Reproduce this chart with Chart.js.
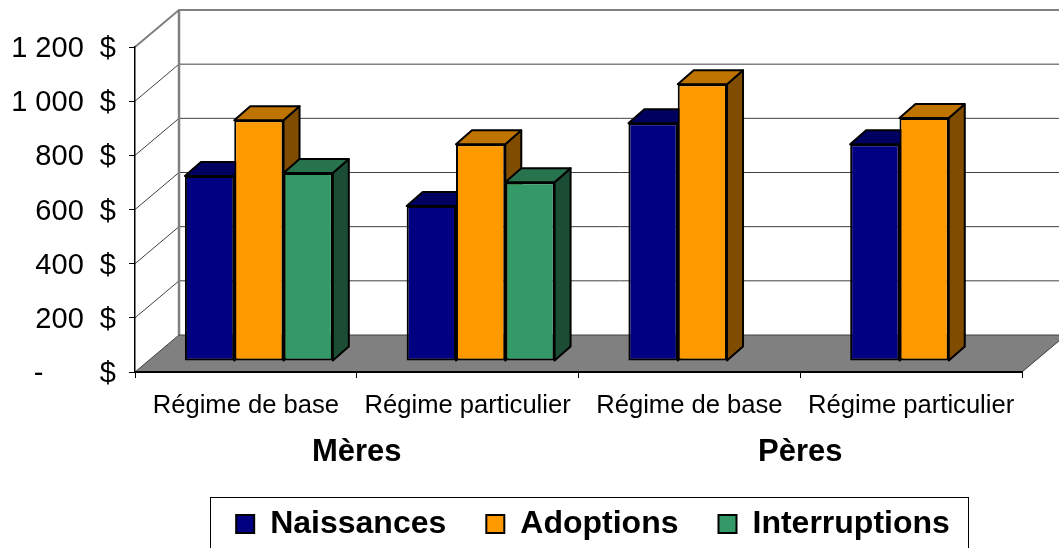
<!DOCTYPE html>
<html>
<head>
<meta charset="utf-8">
<style>
    html, body { margin: 0; padding: 0; background: #fff; overflow: hidden; }
    canvas { display: block; }
</style>
<script src="https://cdn.jsdelivr.net/npm/chart.js@4"></script>
</head>
<body>
<canvas id="chart" width="1059" height="548"></canvas>
<script>
var categories = ['Régime de base', 'Régime particulier', 'Régime de base', 'Régime particulier'];
var groups = ['Mères', 'Pères'];
var naissances = [683, 572, 878, 800];
var adoptions = [889, 800, 1022, 897];
var interruptions = [694, 660, null, null];
var tickLabels = ['-       $', '200  $', '400  $', '600  $', '800  $', '1 000  $', '1 200  $'];

var FONT = '"Liberation Sans", Arial, sans-serif';
var WALL = { x: 44, y: -37 };
var BAR_SHIFT = { x: 13, y: -11 };
var BAR_DEPTH = { x: 16, y: -14 };
var LEGEND_PADDING = 40;
var LEGEND_SHIFT = 82;

function shade(hex, f) {
    var n = parseInt(hex.slice(1), 16);
    var r = Math.round((n >> 16) * f), g = Math.round(((n >> 8) & 255) * f), b = Math.round((n & 255) * f);
    return 'rgb(' + r + ',' + g + ',' + b + ')';
}

function poly(ctx, pts, fill) {
    ctx.beginPath();
    ctx.moveTo(pts[0][0], pts[0][1]);
    for (var i = 1; i < pts.length; i++) ctx.lineTo(pts[i][0], pts[i][1]);
    ctx.closePath();
    if (fill) { ctx.fillStyle = fill; ctx.fill(); }
    ctx.stroke();
}

// walls, floor, depth gridlines and bar faces, all taken from the chart's scales and elements
var walls = {
    id: 'walls',
    beforeLayout: function(chart) {
        var legend = chart.legend;
        if (legend._patched) return;
        var fit = legend.fit;
        legend.fit = function() { fit.call(this); this.height = 70; };
        legend._patched = true;
    },
    afterLayout: function(chart) {
        var legend = chart.legend;
        legend.left += LEGEND_SHIFT;
        legend.right += LEGEND_SHIFT;
        legend.top = 468;
    },
    beforeDraw: function(chart) {
        var ctx = chart.ctx, y = chart.scales.y, a = chart.chartArea;
        ctx.save();
        y.ticks.forEach(function(t, i) {
            if (i === 0) return;
            var py = y.getPixelForValue(t.value);
            var top = i === y.ticks.length - 1;
            ctx.strokeStyle = top ? '#808080' : '#404040';
            ctx.lineWidth = top ? 2 : 1;
            ctx.beginPath();
            ctx.moveTo(a.left, py);
            ctx.lineTo(a.left + WALL.x, py + WALL.y);
            ctx.lineTo(a.right + WALL.x, py + WALL.y);
            ctx.stroke();
        });
        var y0 = y.getPixelForValue(0), yMax = y.getPixelForValue(1200);
        ctx.strokeStyle = '#808080';
        ctx.lineWidth = 2.5;
        ctx.beginPath();
        ctx.moveTo(a.left + WALL.x, y0 + WALL.y);
        ctx.lineTo(a.left + WALL.x, yMax + WALL.y);
        ctx.stroke();
        ctx.strokeStyle = '#404040';
        ctx.lineWidth = 1;
        poly(ctx, [
            [a.left, y0], [a.right, y0],
            [a.right + WALL.x, y0 + WALL.y], [a.left + WALL.x, y0 + WALL.y]
        ], '#808080');
        ctx.restore();
    },
    // draw left to right so each bar hides the side of the one before it
    beforeDatasetsDraw: function(chart) {
        var ctx = chart.ctx;
        var count = chart.data.labels.length;
        var n = chart.data.datasets.length;
        ctx.save();
        ctx.translate(BAR_SHIFT.x, BAR_SHIFT.y);
        ctx.lineJoin = 'round';
        for (var c = 0; c < count; c++) {
            for (var d = 0; d < n; d++) {
                var ds = chart.data.datasets[d];
                if (ds.data[c] === null) continue;
                var bar = chart.getDatasetMeta(d).data[c];
                var l = bar.x - bar.width / 2, r = bar.x + bar.width / 2;
                var dx = BAR_DEPTH.x, dy = BAR_DEPTH.y;
                ctx.strokeStyle = '#000';
                ctx.lineWidth = 2;
                poly(ctx, [[r, bar.y], [r + dx, bar.y + dy], [r + dx, bar.base + dy], [r, bar.base]], shade(ds.backgroundColor, 0.5));
                poly(ctx, [[l, bar.y], [r, bar.y], [r + dx, bar.y + dy], [l + dx, bar.y + dy]], shade(ds.backgroundColor, 0.75));
                bar.draw(ctx);
            }
        }
        ctx.restore();
        return false;
    },
    afterDraw: function(chart) {
        var ctx = chart.ctx, legend = chart.legend;
        var center = (legend.left + legend.right) / 2 - 4;
        var half = (legend.lineWidths[0] - LEGEND_PADDING) / 2 + 22;
        ctx.save();
        ctx.strokeStyle = '#000';
        ctx.lineWidth = 1;
        ctx.strokeRect(Math.round(center - half) + 0.5, 497.5, Math.round(half * 2), 60);
        ctx.restore();
    }
};

new Chart(document.getElementById('chart').getContext('2d'), {
    type: 'bar',
    data: {
        labels: categories,
        datasets: [
            { label: 'Naissances', data: naissances, backgroundColor: '#000080', borderColor: '#000', borderWidth: 2, borderSkipped: false },
            { label: 'Adoptions', data: adoptions, backgroundColor: '#FF9900', borderColor: '#000', borderWidth: 2, borderSkipped: false },
            { label: 'Interruptions', data: interruptions, backgroundColor: '#339966', borderColor: '#000', borderWidth: 2, borderSkipped: false }
        ]
    },
    options: {
        responsive: false,
        animation: false,
        categoryPercentage: 0.667,
        barPercentage: 1,
        layout: { padding: { top: 47, right: 37, left: 0, bottom: 0 } },
        scales: {
            y: {
                min: 0,
                max: 1200,
                afterFit: function(s) { s.width = 135; },
                grid: { drawOnChartArea: false, color: '#000', tickLength: 6 },
                border: { color: '#000', width: 1.5 },
                ticks: {
                    stepSize: 200,
                    color: '#000',
                    padding: 13,
                    labelOffset: 2,
                    font: { family: FONT, size: 29 },
                    callback: function(v, i) { return tickLabels[i]; }
                }
            },
            x: {
                afterFit: function(s) { s.height = 50; },
                grid: { drawOnChartArea: false, color: '#000', tickLength: 6 },
                border: { color: '#000', width: 2 },
                ticks: { color: '#000', padding: 13, maxRotation: 0, autoSkip: false, font: { family: FONT, size: 25.6 } }
            },
            x2: {
                type: 'category',
                labels: groups,
                position: 'bottom',
                afterFit: function(s) { s.height = 56; },
                grid: { display: false },
                border: { display: false },
                ticks: { color: '#000', padding: 4, maxRotation: 0, font: { family: FONT, size: 31, weight: 'bold' } }
            }
        },
        plugins: {
            tooltip: { enabled: false },
            legend: {
                position: 'bottom',
                labels: {
                    color: '#000',
                    boxWidth: 18,
                    boxHeight: 18,
                    padding: LEGEND_PADDING,
                    font: { family: FONT, size: 32, weight: 'bold' }
                }
            }
        }
    },
    plugins: [walls]
});
</script>
</body>
</html>
